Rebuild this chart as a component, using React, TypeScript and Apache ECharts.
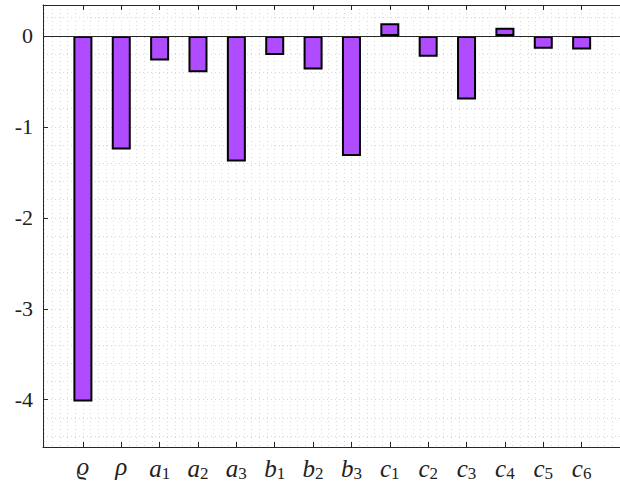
import React, { useEffect, useRef } from "react";
import * as echarts from "echarts";

// Category labels: base symbol and optional subscript, separated by "_"
const categories = ["ϱ", "ρ", "a_1", "a_2", "a_3", "b_1", "b_2", "b_3", "c_1", "c_2", "c_3", "c_4", "c_5", "c_6"];
const values = [-4.02, -1.25, -0.27, -0.4, -1.38, -0.21, -0.37, -1.32, 0.14, -0.23, -0.7, 0.09, -0.14, -0.15];
const yTicks = [-4, -3, -2, -1, 0];

const X_MIN = -0.04;
const X_MAX = 15;
const Y_MIN = -4.52;
const Y_MAX = 0.34;

const xTickPositions = categories.map((_, i) => i + 1);

// Minor grid positions every 0.2 units
const minorSteps = (lo: number, hi: number) => {
  const out: number[] = [];
  for (let k = Math.ceil(lo / 0.2); k * 0.2 <= hi + 1e-9; k++) out.push(Math.round(k * 0.2 * 10) / 10);
  return out;
};

const AXIS_COLOR = "#262626";
const GRID_COLOR = "#d9d9d9";
const SERIF = "Liberation Serif";

export default function App() {
  const ref = useRef<HTMLDivElement>(null);

  useEffect(() => {
    if (!ref.current) return;
    const chart = echarts.init(ref.current, null, { renderer: "svg" });

    const dotted = { show: true, lineStyle: { color: GRID_COLOR, width: 1, type: [1, 3] as any } };

    chart.setOption({
      animation: false,
      backgroundColor: "#ffffff",
      textStyle: { fontFamily: SERIF },
      grid: { left: 43, right: -7, top: 5, bottom: 38, containLabel: false },
      xAxis: [
        {
          type: "value",
          min: X_MIN,
          max: X_MAX,
          position: "bottom",
          axisLine: { show: true, onZero: false, lineStyle: { color: AXIS_COLOR, width: 1 } },
          axisTick: { show: true, inside: true, length: 5, customValues: xTickPositions, lineStyle: { color: AXIS_COLOR } },
          axisLabel: {
            show: true,
            customValues: xTickPositions,
            margin: 7,
            fontFamily: SERIF,
            formatter: (val: number) => {
              const label = categories[Math.round(val) - 1] || "";
              const [base, sub] = label.split("_");
              return sub ? `{m|${base}}{s|${sub}}` : `{m|${base}}`;
            },
            rich: {
              m: { fontFamily: SERIF, fontStyle: "italic", fontSize: 25, color: "#222" },
              s: { fontFamily: SERIF, fontSize: 17, color: "#222", padding: [11, 0, 0, 0] },
            },
          },
          splitLine: { show: false },
        },
        {
          type: "value",
          min: X_MIN,
          max: X_MAX,
          position: "top",
          axisLine: { show: true, onZero: false, lineStyle: { color: AXIS_COLOR, width: 1 } },
          axisTick: { show: true, inside: true, length: 5, customValues: xTickPositions, lineStyle: { color: AXIS_COLOR } },
          axisLabel: { show: false },
          splitLine: { show: false },
        },
        {
          type: "value",
          min: X_MIN,
          max: X_MAX,
          axisLine: { show: false, onZero: false },
          axisTick: { show: false, customValues: minorSteps(0, X_MAX) },
          axisLabel: { show: false },
          splitLine: dotted,
        },
      ],
      yAxis: [
        {
          type: "value",
          min: Y_MIN,
          max: Y_MAX,
          position: "left",
          axisLine: { show: true, onZero: false, lineStyle: { color: AXIS_COLOR, width: 1 } },
          axisTick: { show: true, inside: true, length: 5, customValues: yTicks, lineStyle: { color: AXIS_COLOR } },
          axisLabel: {
            show: true,
            customValues: yTicks,
            margin: 10,
            fontFamily: SERIF,
            fontSize: 22,
            color: "#222",
            formatter: (v: number) => String(v),
          },
          splitLine: { show: false },
        },
        {
          type: "value",
          min: Y_MIN,
          max: Y_MAX,
          position: "right",
          axisLine: { show: false, onZero: false },
          axisTick: { show: false, customValues: minorSteps(Y_MIN, Y_MAX) },
          axisLabel: { show: false },
          splitLine: dotted,
        },
      ],
      series: [
        {
          type: "bar",
          xAxisIndex: 0,
          yAxisIndex: 0,
          barWidth: 19,
          data: values.map((v, i) => [i + 1, v]),
          itemStyle: { color: "#B04CFF", borderColor: "#000000", borderWidth: 2 },
          markLine: {
            silent: true,
            symbol: "none",
            label: { show: false },
            lineStyle: { color: AXIS_COLOR, width: 1, type: "solid" },
            data: [{ yAxis: 0 }],
          },
          z: 3,
        },
      ],
    });

    return () => chart.dispose();
  }, []);

  return (
    <div
      ref={ref}
      style={{ position: "absolute", left: 0, top: 0, width: 620, height: 485, background: "#fff" }}
    />
  );
}
